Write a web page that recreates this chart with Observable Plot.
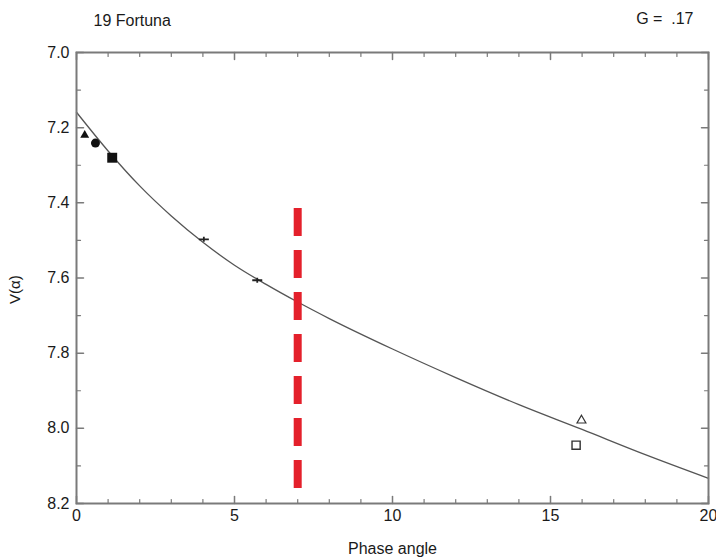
<!DOCTYPE html>
<html><head><meta charset="utf-8">
<script src="https://cdn.jsdelivr.net/npm/d3@7"></script>
<script src="https://cdn.jsdelivr.net/npm/@observablehq/plot@0.6"></script>
<style>body{margin:0;background:#fff}#chart{width:716px;height:559px}</style>
</head><body><div id="chart"></div>
<script>
// ---- data ----
const titleText = "19 Fortuna";
const gText = "G =  .17";
const xLabelText = "Phase angle";
const yLabelText = "V(α)";

const xMajorTicks = [0, 5, 10, 15, 20];
const xMinorTicks = [1, 2, 3, 4, 6, 7, 8, 9, 11, 12, 13, 14, 16, 17, 18, 19];
const yMajorTicks = [7.0, 7.2, 7.4, 7.6, 7.8, 8.0, 8.2];
const yMinorTicks = [7.1, 7.3, 7.5, 7.7, 7.9, 8.1];

// fitted phase curve
const curveAlpha = [0, 1, 2, 3, 4, 5, 6, 7, 8, 10, 12, 14, 16, 18, 20];
const curveV = [7.159, 7.262, 7.355, 7.435, 7.505, 7.566, 7.617, 7.664, 7.708, 7.789, 7.865, 7.937, 8.003, 8.07, 8.133];

// observations
const obsAlpha = [0.26, 0.6, 1.13, 4.03, 5.72, 15.98, 15.81];
const obsV = [7.22, 7.241, 7.28, 7.497, 7.606, 7.979, 8.045];
const obsKind = ["triTri", "circle", "square", "bar", "bar", "openTri", "openSquare"];

// red dashed marker
const markAlpha = [7];
const markTop = [7.415];
const markBottom = [8.165];

// ---- build tables ----
const curve = curveAlpha.map((a, i) => ({a, v: curveV[i]}));
const obs = obsAlpha.map((a, i) => ({a, v: obsV[i], kind: obsKind[i]}));
const marker = markAlpha.map((a, i) => ({a, v1: markTop[i], v2: markBottom[i]}));
const of = k => obs.filter(d => d.kind === k);

const barSymbol = {
  draw(ctx, size) {
    const r = Math.sqrt(size / Math.PI);
    ctx.moveTo(-r, 0); ctx.lineTo(r, 0);
    ctx.moveTo(0, -r * 0.5); ctx.lineTo(0, r * 0.5);
  }
};
const tickShape = {draw(ctx, l) { ctx.moveTo(0, 0); ctx.lineTo(0, -l); }};

const axisColor = "#7a7a7a";
const textColor = "#1a1a1a";
const font = "'Liberation Sans', Arial, sans-serif";

function ticks(values, side, len, w) {
  const ch = (side === "bottom" || side === "top") ? "x" : "y";
  const rot = {bottom: 0, top: 180, left: 90, right: -90}[side];
  return Plot.vector(values, {[ch]: d => d, frameAnchor: side, length: len, rotate: rot, anchor: "start",
    shape: tickShape, stroke: axisColor, strokeWidth: w});
}

const plot = Plot.plot({
  width: 716, height: 559,
  marginLeft: 76, marginRight: 8, marginTop: 52, marginBottom: 56,
  x: {domain: [0, 20]},
  y: {domain: [7.0, 8.2], reverse: true},
  style: {fontFamily: font, fontSize: "16px", color: textColor, background: "#fff", overflow: "visible"},
  marks: [
    Plot.line(curve, {x: "a", y: "v", stroke: "#555", strokeWidth: 1.3, curve: "monotone-x"}),
    Plot.ruleX(marker, {x: "a", y1: "v1", y2: "v2", stroke: "#e4202b", strokeWidth: 8, strokeDasharray: "28,14"}),
    Plot.dot(of("triTri"), {x: "a", y: "v", symbol: "triangle", r: 3.3, fill: "#111", stroke: "none"}),
    Plot.dot(of("circle"), {x: "a", y: "v", symbol: "circle", r: 4.5, fill: "#111", stroke: "none"}),
    Plot.dot(of("square"), {x: "a", y: "v", symbol: "square", r: 5.6, fill: "#111", stroke: "none"}),
    Plot.dot(of("bar"), {x: "a", y: "v", symbol: barSymbol, r: 5, stroke: "#222", strokeWidth: 1.8, fill: "none"}),
    Plot.dot(of("openTri"), {x: "a", y: "v", symbol: "triangle", r: 3.3, fill: "none", stroke: "#333", strokeWidth: 1.2}),
    Plot.dot(of("openSquare"), {x: "a", y: "v", symbol: "square", r: 4.6, fill: "none", stroke: "#333", strokeWidth: 1.4}),
    Plot.frame({stroke: axisColor, strokeWidth: 2}),
    // inward ticks on all four sides
    ticks(xMajorTicks, "bottom", 7, 1.5), ticks(xMinorTicks, "bottom", 4, 1.2),
    ticks(xMajorTicks, "top", 7, 1.5), ticks(xMinorTicks, "top", 4, 1.2),
    ticks(yMajorTicks, "left", 7, 1.5), ticks(yMinorTicks, "left", 4, 1.2),
    ticks(yMajorTicks, "right", 7, 1.5), ticks(yMinorTicks, "right", 4, 1.2),
    // tick labels
    Plot.axisX(xMajorTicks, {anchor: "bottom", tickSize: 0, tickPadding: 6, tickFormat: d => String(d), label: null, fontSize: 16, fill: textColor}),
    Plot.axisY(yMajorTicks, {anchor: "left", tickSize: 0, tickPadding: 7, tickFormat: d => d.toFixed(1), label: null, fontSize: 16, fill: textColor}),
    // titles and axis labels
    Plot.text([titleText], {text: d => d, frameAnchor: "top-left", textAnchor: "start", lineAnchor: "middle", dx: 17, dy: -32, fontSize: 16, fill: textColor}),
    Plot.text([gText], {text: d => d, frameAnchor: "top-right", textAnchor: "end", lineAnchor: "middle", dx: -15, dy: -34, fontSize: 16, fill: textColor}),
    Plot.text([xLabelText], {text: d => d, frameAnchor: "bottom", lineAnchor: "middle", dy: 45, fontSize: 16, fill: textColor}),
    Plot.text([yLabelText], {text: d => d, frameAnchor: "left", rotate: -90, dx: -61, dy: 26, fontSize: 15, fill: textColor})
  ]
});
document.getElementById("chart").appendChild(plot);
</script>
</body></html>
